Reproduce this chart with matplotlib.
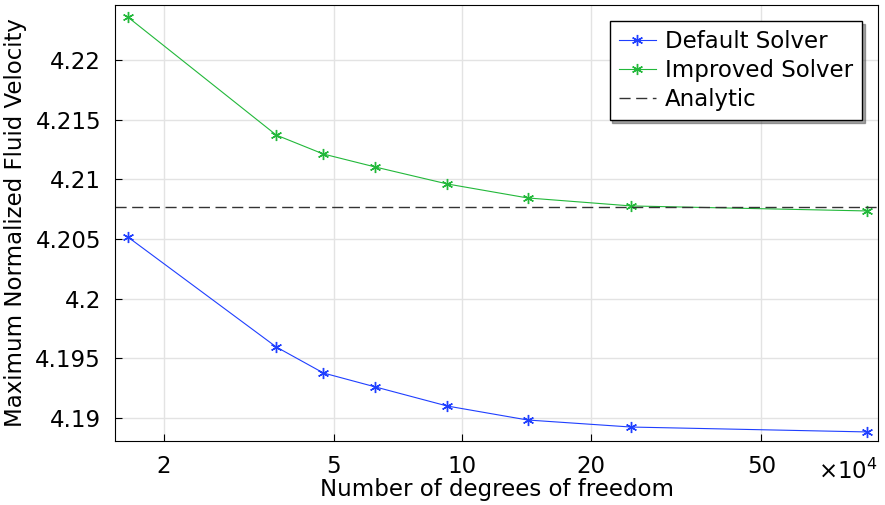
import matplotlib
matplotlib.use("Agg")
import matplotlib.pyplot as plt
from matplotlib.ticker import FixedLocator, NullLocator

dofs = [1.65, 3.67, 4.73, 6.26, 9.22, 14.2, 24.8, 88.3]
default_v = [4.20517, 4.19595, 4.19377, 4.1926, 4.191, 4.18983, 4.18924, 4.18883]
improved_v = [4.2236, 4.21371, 4.21212, 4.21103, 4.20961, 4.20844, 4.20777, 4.20735]
analytic = 4.20768
xticks = [2, 5, 10, 20, 50]
yticks = [4.19, 4.195, 4.2, 4.205, 4.21, 4.215, 4.22]
ytick_labels = ["4.19", "4.195", "4.2", "4.205", "4.21", "4.215", "4.22"]

fs = 16.5
fig = plt.figure(figsize=(8.85, 5.05), dpi=100)
ax = fig.add_axes([115/885, 64/505, 763/885, 436/505])
ax.plot(dofs, default_v, color="#1f3fff", marker=(6, 2, 0), markersize=8, lw=0.8, label="Default Solver")
ax.plot(dofs, improved_v, color="#22b83a", marker=(6, 2, 0), markersize=8, lw=0.8, label="Improved Solver")
ax.plot([1.54, 93.7], [analytic, analytic], color="#333333", ls=(0, (8, 4)), lw=1, label="Analytic")
ax.set_xscale("log")
ax.set_xlim(1.54, 93.7)
ax.set_ylim(4.18807, 4.22461)
ax.xaxis.set_major_locator(FixedLocator(xticks))
ax.xaxis.set_minor_locator(NullLocator())
ax.set_xticks(xticks, [str(t) for t in xticks])
ax.set_yticks(yticks, ytick_labels)
ax.grid(True, color="#e3e3e3", lw=1)
ax.set_axisbelow(True)
ax.tick_params(direction="in", labelsize=fs, length=5, pad=10)
ax.set_xlabel("Number of degrees of freedom", fontsize=fs, labelpad=0)
ax.set_ylabel("Maximum Normalized Fluid Velocity", fontsize=fs, labelpad=6)
ax.text(1.0, -0.04, r"$\times10^4$", transform=ax.transAxes, ha="right", va="top", fontsize=fs)
leg = ax.legend(loc="upper right", fontsize=fs, fancybox=False, shadow=True, framealpha=1,
                edgecolor="black", borderaxespad=0.7, handlelength=1.6, handletextpad=0.4,
                labelspacing=0.25)
fig.savefig("out.png", dpi=100)
